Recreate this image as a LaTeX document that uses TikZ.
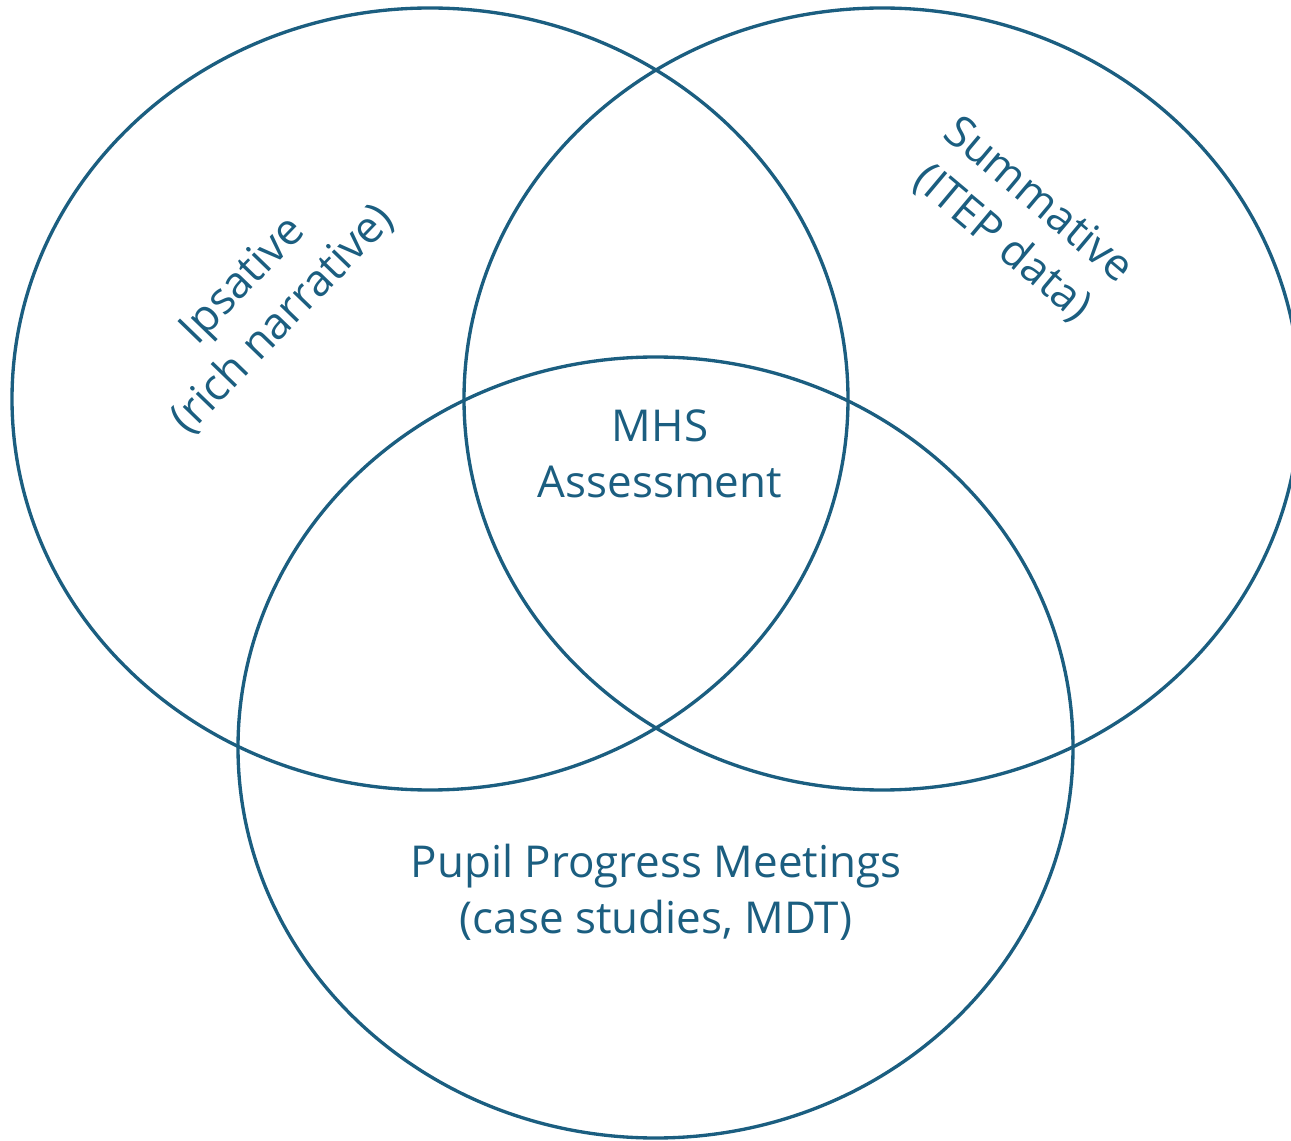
\documentclass[tikz,border=0pt]{standalone}
\usepackage{fontspec}
\setsansfont{Open Sans}
\definecolor{vennblue}{HTML}{1B5E80}

\begin{document}
\begin{tikzpicture}[x=0.02cm,y=-0.02cm,line width=1.9pt,
    label/.style={text=vennblue,align=center,inner sep=0pt,font=\sffamily\fontsize{25}{32}\selectfont}]
        \useasboundingbox (0,0) rectangle (1291,1141);
        \draw[vennblue] (430,399) ellipse [x radius=418, y radius=391];
        \draw[vennblue] (882,399) ellipse [x radius=418, y radius=391];
        \draw[vennblue] (655.5,747.5) ellipse [x radius=417.5, y radius=390.5];
        \node at (263,300) [label,rotate=46] (ips) {Ipsative\\(rich narrative)};
        \node at (1020,222) [label,rotate=-40] (sum) {Summative\\(ITEP data)};
        \node at (660,454) [label] (mhs) {MHS\\Assessment};
        \node at (656,892) [label] (ppm) {Pupil Progress Meetings\\(case studies, MDT)};
\end{tikzpicture}
\end{document}
